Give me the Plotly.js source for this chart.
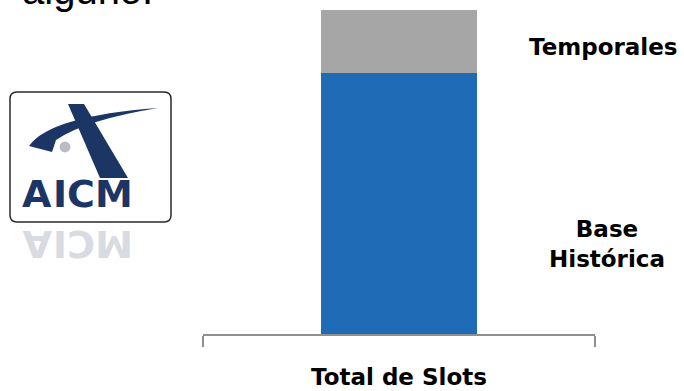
<!DOCTYPE html>
<html>
<head>
<meta charset="utf-8">
<script src="https://cdn.plot.ly/plotly-3.0.1.min.js"></script>
<style>html,body{margin:0;padding:0;background:#fff;}#chart{width:684px;height:391px;}</style>
</head>
<body>
<div id="chart"></div>
<script>
// ---- data ----
var category = ["Total de Slots"];
var seriesNames = ["Base<br>Histórica", "Temporales"];
var baseValues = [80.5];
var tempValues = [19.5];
var seriesColors = ["#1F6BB5", "#A6A6A6"];
var headerText = "alguno.";
var logoText = ["A", "I", "C", "M"];

// ---- layout geometry (pixel helpers) ----
var W = 684, H = 391, ML = 203, MR = 89, MT = 10, MB = 57;
var PW = W - ML - MR, PH = H - MT - MB;
function X(px) { return (px - ML) / PW; }
function Y(py) { return (H - MB - py) / PH; }

var traces = [
  { type: "bar", x: [0], y: baseValues, name: "Base Histórica", width: 0.398,
    marker: { color: seriesColors[0] }, hoverinfo: "none" },
  { type: "bar", x: [0], y: tempValues, name: "Temporales", width: 0.398,
    marker: { color: seriesColors[1] }, hoverinfo: "none" }
];

var labelFont = { family: "DejaVu Sans", size: 23, color: "#000", weight: "bold" };
var navy = "#1B3665";

var annotations = [
  { text: seriesNames[1], xref: "paper", yref: "paper", x: X(603), y: Y(47),
    xanchor: "center", yanchor: "middle", showarrow: false, font: labelFont },
  { text: seriesNames[0], xref: "paper", yref: "paper", x: X(607), y: Y(244),
    xanchor: "center", yanchor: "middle", showarrow: false, font: labelFont },
  { text: headerText, xref: "paper", yref: "paper", x: X(20), y: Y(14),
    xanchor: "left", yanchor: "bottom", showarrow: false,
    font: { family: "Liberation Sans", size: 40, color: "#000" } }
];

// logo letters and their faded reflection
var letterX = [37, 60, 81, 114];
for (var i = 0; i < logoText.length; i++) {
  annotations.push({ text: logoText[i], xref: "paper", yref: "paper", x: X(letterX[i]), y: Y(194),
    xanchor: "center", yanchor: "middle", showarrow: false,
    font: { family: "DejaVu Sans", size: 38, color: navy, weight: "bold" } });
  annotations.push({ text: logoText[i], xref: "paper", yref: "paper", x: X(letterX[i]), y: Y(244),
    xanchor: "center", yanchor: "middle", showarrow: false, textangle: 180,
    font: { family: "DejaVu Sans", size: 38, color: "#D8DBE2", weight: "bold" } });
}

function P(pts) {
  var s = "";
  for (var i = 0; i < pts.length; i++) {
    var c = pts[i];
    if (typeof c === "string") { s += c + " "; }
    else { s += X(c[0]).toFixed(5) + "," + Y(c[1]).toFixed(5) + " "; }
  }
  return s;
}

var bx0 = 10, bx1 = 171, by0 = 92, by1 = 222, r = 7;
var shapes = [
  // logo frame (rounded)
  { type: "path", xref: "paper", yref: "paper",
    path: P(["M", [bx0 + r, by0], "L", [bx1 - r, by0], "Q", [bx1, by0], [bx1, by0 + r],
             "L", [bx1, by1 - r], "Q", [bx1, by1], [bx1 - r, by1],
             "L", [bx0 + r, by1], "Q", [bx0, by1], [bx0, by1 - r],
             "L", [bx0, by0 + r], "Q", [bx0, by0], [bx0 + r, by0], "Z"]),
    line: { color: "#2a2a2a", width: 1.5 }, fillcolor: "#FFFFFF", layer: "below" },
  // slanted bar of the logo
  { type: "path", xref: "paper", yref: "paper",
    path: P(["M", [68, 104], "L", [84, 104], "L", [128, 178], "L", [100, 178], "Z"]),
    fillcolor: navy, line: { width: 0 } },
  // swoosh
  { type: "path", xref: "paper", yref: "paper",
    path: P(["M", [29, 146], "Q", [50, 116], [158, 108], "Q", [85, 120], [56, 140], "L", [52, 152], "Z"]),
    fillcolor: navy, line: { width: 0 } },
  // ball
  { type: "circle", xref: "paper", yref: "paper", x0: X(60), x1: X(70), y0: Y(152), y1: Y(142),
    fillcolor: "#B9BCC2", line: { color: "#9a9ea6", width: 0.5 } }
];

var layout = {
  width: W, height: H,
  margin: { l: ML, r: MR, t: MT, b: MB, pad: 0 },
  paper_bgcolor: "#FFFFFF", plot_bgcolor: "#FFFFFF",
  barmode: "stack", showlegend: false,
  xaxis: {
    range: [-0.5, 0.5], showgrid: false, zeroline: false,
    showline: true, linecolor: "#8F8F8F", linewidth: 1.5,
    ticks: "outside", tickmode: "array", tickvals: [-0.5, 0.5], ticktext: ["", ""],
    ticklen: 11, tickwidth: 1.5, tickcolor: "#8F8F8F",
    title: { text: category[0], font: labelFont, standoff: 21 }
  },
  yaxis: { range: [0, 100], visible: false, fixedrange: true },
  annotations: annotations,
  shapes: shapes
};

Plotly.newPlot("chart", traces, layout, { staticPlot: true, displayModeBar: false });
</script>
</body>
</html>
